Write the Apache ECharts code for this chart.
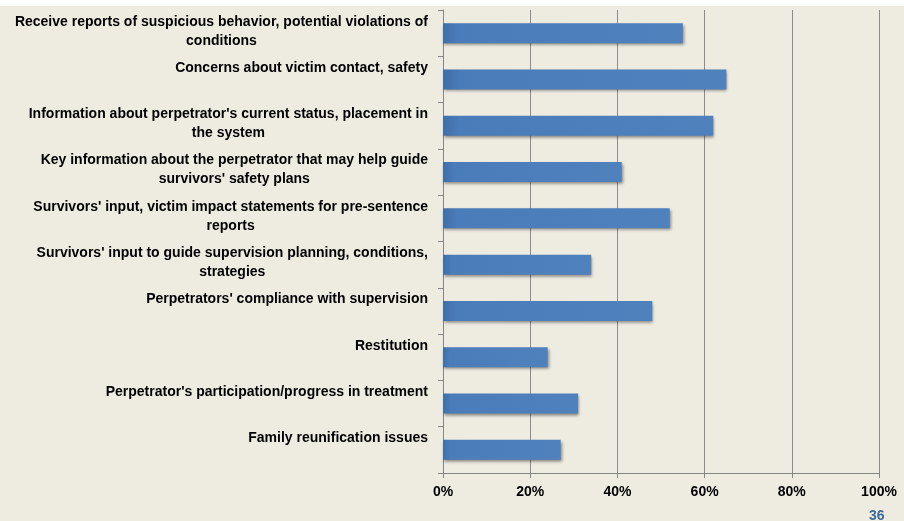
<!DOCTYPE html>
<html>
<head>
<meta charset="utf-8">
<script src="https://cdn.jsdelivr.net/npm/echarts@6/dist/echarts.min.js"></script>
<style>
html,body{margin:0;padding:0;background:#eeece1;}
#c{width:904px;height:521px;}
</style>
</head>
<body>
<div id="c"></div>
<script>
const categories = [
  "Receive reports of suspicious behavior, potential violations of\nconditions",
  "Concerns about victim contact, safety",
  "Information about perpetrator's current status, placement in\nthe system",
  "Key information about the perpetrator that may help guide\nsurvivors' safety plans",
  "Survivors' input, victim impact statements for pre-sentence\nreports",
  "Survivors' input to guide supervision planning, conditions,\nstrategies",
  "Perpetrators' compliance with supervision",
  "Restitution",
  "Perpetrator's participation/progress in treatment",
  "Family reunification issues"
];
const values = [55, 65, 62, 41, 52, 34, 48, 24, 31, 27];
const pageNumber = "36";

const chart = echarts.init(document.getElementById('c'));
const labelFont = { fontFamily: 'Liberation Sans, Arial, sans-serif', fontWeight: 'bold', fontSize: 14, color: '#000000', lineHeight: 19 };
chart.setOption({
  backgroundColor: '#eeece1',
  animation: false,
  graphic: [
    { type: 'rect', left: 0, top: 0, shape: { width: 904, height: 6 }, style: { fill: '#ffffff' }, z: -10, silent: true },
    { type: 'text', left: 869, top: 509, style: { text: pageNumber, fill: '#3d6a9b', font: 'bold 14px Liberation Sans, Arial, sans-serif' } }
  ],
  grid: { left: 443, right: 25, top: 10, bottom: 48, containLabel: false },
  xAxis: {
    type: 'value', min: 0, max: 100, interval: 20,
    axisLine: { show: true, lineStyle: { color: '#868686', width: 1 } },
    axisTick: { show: true, length: 5, lineStyle: { color: '#868686' } },
    splitLine: { show: true, lineStyle: { color: '#8c8c8c', width: 1 } },
    axisLabel: { formatter: '{value}%', margin: 12, fontFamily: 'Liberation Sans, Arial, sans-serif', fontWeight: 'bold', fontSize: 14, color: '#000000' }
  },
  yAxis: {
    type: 'category', data: categories, inverse: true,
    axisLine: { show: true, lineStyle: { color: '#868686', width: 1 } },
    axisTick: { show: true, length: 5, lineStyle: { color: '#868686' } },
    splitLine: { show: false },
    axisLabel: {
      margin: 15,
      align: 'right',
      verticalAlign: 'top',
      padding: [-21, 0, 0, 0],
      ...labelFont,
      formatter: function (v) { return v.split('\n').map(function (l) { return '{c|' + l + '}'; }).join('\n'); },
      rich: { c: Object.assign({ align: 'center' }, labelFont) }
    }
  },
  series: [{
    type: 'bar', data: values, barWidth: 20,
    itemStyle: {
      color: new echarts.graphic.LinearGradient(0, 0, 1, 0, [
        { offset: 0, color: '#3f6ea8' },
        { offset: 0.06, color: '#4a7cba' },
        { offset: 1, color: '#4f81bd' }
      ]),
      shadowColor: 'rgba(0,0,0,0.45)', shadowBlur: 3, shadowOffsetX: 1, shadowOffsetY: 2
    }
  }]
});
</script>
</body>
</html>
